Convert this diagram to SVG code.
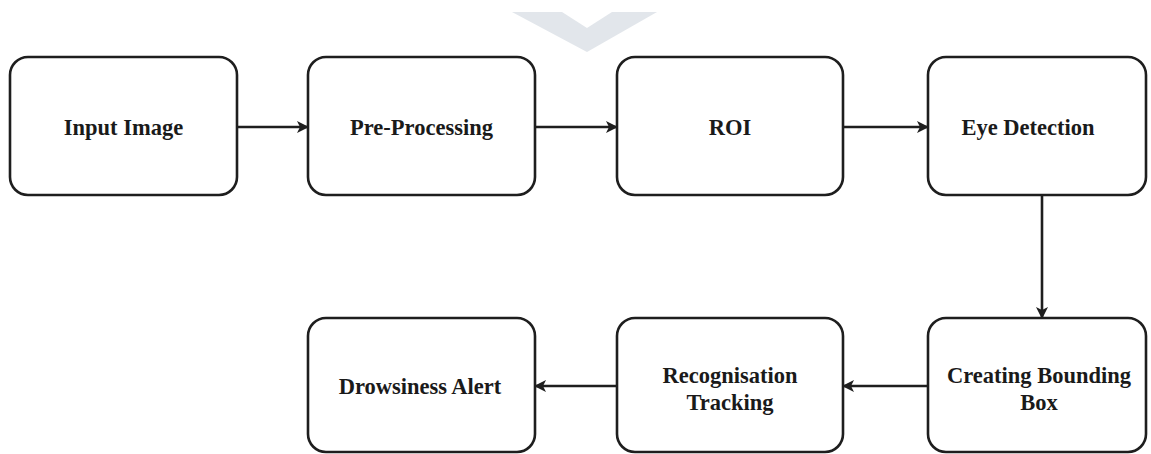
<svg xmlns="http://www.w3.org/2000/svg" width="1151" height="454" viewBox="0 0 1151 454">
<style>
.box{fill:#fff;stroke:#1e1e1e;stroke-width:2.6}
.lbl{font-family:"Liberation Serif","Times New Roman",serif;font-weight:bold;font-size:22.5px;fill:#1a1a1a;text-anchor:middle}
.edge{stroke:#1e1e1e;stroke-width:2.6;fill:none;marker-end:url(#ah)}
</style>
<defs>
<marker id="ah" markerWidth="12" markerHeight="12" refX="11" refY="6" orient="auto" markerUnits="userSpaceOnUse">
<path d="M0,0 L12,6 L0,12 L3,6 Z" fill="#1e1e1e"/>
</marker>
</defs>
<rect width="1151" height="454" fill="#fff"/>
<polygon points="512,12 562,12 587,28 612,12 657,12 587,52" fill="#e2e6eb"/>
<g id="n1"><rect class="box" x="10" y="57" width="227" height="138" rx="18"/><text class="lbl" x="123.5" y="135">Input Image</text></g>
<g id="n2"><rect class="box" x="308" y="57" width="227" height="138" rx="18"/><text class="lbl" x="421.5" y="135">Pre-Processing</text></g>
<g id="n3"><rect class="box" x="617" y="57" width="226" height="138" rx="18"/><text class="lbl" x="730" y="135">ROI</text></g>
<g id="n4"><rect class="box" x="928" y="57" width="218" height="138" rx="18"/><text class="lbl" x="1028" y="135">Eye Detection</text></g>
<g id="n5"><rect class="box" x="928" y="318" width="218" height="134" rx="18"/><text class="lbl" x="1039" y="383">Creating Bounding</text><text class="lbl" x="1039" y="410">Box</text></g>
<g id="n6"><rect class="box" x="617" y="318" width="226" height="134" rx="18"/><text class="lbl" x="730" y="383">Recognisation</text><text class="lbl" x="730" y="410">Tracking</text></g>
<g id="n7"><rect class="box" x="308" y="318" width="227" height="134" rx="18"/><text class="lbl" x="420" y="394">Drowsiness Alert</text></g>
<g id="connectors">
<line class="edge" x1="237" y1="127" x2="308" y2="127"/>
<line class="edge" x1="535" y1="127" x2="617" y2="127"/>
<line class="edge" x1="843" y1="127" x2="928" y2="127"/>
<line class="edge" x1="1042" y1="195" x2="1042" y2="318"/>
<line class="edge" x1="928" y1="386" x2="843" y2="386"/>
<line class="edge" x1="617" y1="386" x2="535" y2="386"/>
</g>
</svg>
